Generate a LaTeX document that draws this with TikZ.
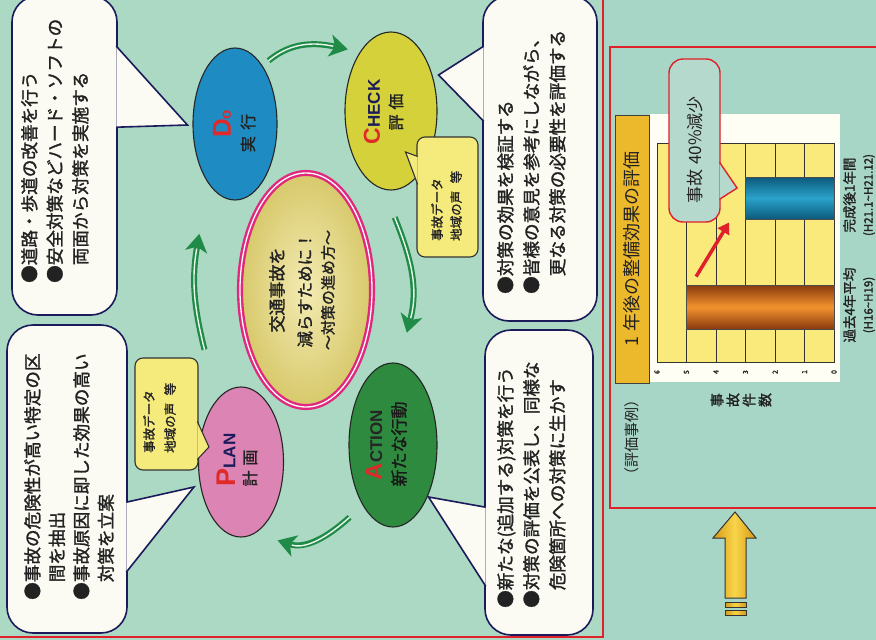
\documentclass[tikz,border=0pt]{standalone}
\usepackage{fontspec}
\setmainfont[AutoFakeBold=1.5]{Noto Sans CJK JP}
\newfontfamily\lat{Liberation Sans}
\usetikzlibrary{shapes.geometric,arrows.meta,calc}
\definecolor{bgL}{HTML}{ABD9C3}
\definecolor{bgR}{HTML}{A7D6C7}
\definecolor{doblue}{HTML}{1E8CC2}
\definecolor{chkyel}{HTML}{D4D13A}
\definecolor{actgrn}{HTML}{2E8A3E}
\definecolor{plnpink}{HTML}{DC84B4}
\definecolor{agreen}{HTML}{1F8B47}
\definecolor{navy}{HTML}{1B1B5C}
\definecolor{bubfillc}{HTML}{FBFBF3}
\definecolor{notefill}{HTML}{F5EA7C}
\definecolor{lblred}{HTML}{E02A2A}
\definecolor{txt}{HTML}{222222}
\definecolor{magen}{HTML}{E0287E}
\definecolor{cyel}{HTML}{EADA74}
\definecolor{gold}{HTML}{ECB82C}
\definecolor{gridy}{HTML}{FAEA7C}
\definecolor{redline}{HTML}{E0202A}
\definecolor{callfill}{HTML}{B6D9CD}
\definecolor{barbrown}{HTML}{8A3A0E}
\definecolor{barorange}{HTML}{F2922E}
\definecolor{bluedark}{HTML}{0C5A7C}
\definecolor{bluelight}{HTML}{2AA2CA}
\definecolor{arrdark}{HTML}{D89A14}
\definecolor{arrlight}{HTML}{F8D44A}
\begin{document}
\begin{tikzpicture}[x=1pt,y=1pt,
  ell/.style={ellipse, draw=black!85, line width=1.1pt, inner sep=0pt},
  bub/.style={rectangle, rounded corners=26pt, fill=bubfillc, draw=navy, line width=1.6pt, inner sep=0pt},
  bubline/.style={draw=navy, line width=1.6pt, line join=miter},
  bubtext/.style={rotate=90, anchor=north west, inner sep=0pt, align=left, text=txt, font=\fontsize{17.6}{25.5}\selectfont\bfseries},
  note/.style={rectangle, rounded corners=8pt, fill=notefill, draw=black!80, line width=1.1pt, inner sep=0pt},
  noteline/.style={draw=black!80, line width=1.1pt},
  notetext/.style={rotate=90, anchor=north west, inner sep=0pt, align=left, text=txt, font=\fontsize{12.5}{21}\selectfont\bfseries},
  lbl/.style={rotate=90, inner sep=0pt, text=txt},
  garrow/.style={draw=agreen, line width=6pt, -{Stealth[length=18pt,width=22pt,inset=5pt]},
    postaction={draw=white!92!agreen, line width=1.4pt, -, shorten >=15pt}},
]
% background and frames
\fill[bgL] (0,0) rectangle (876,-640);
\fill[bgR] (604,0) rectangle (876,-640);
\useasboundingbox (0,0) rectangle (876,-640);
\draw[redline, line width=2pt] (603,0) -- (603,-637) -- (0,-637);
\draw[redline, line width=1.4pt] (610,-47) rectangle (882,-508);

% PDCA ellipses
\node[ell, fill=doblue, minimum width=84pt, minimum height=152pt] (do) at (235,-124) {};
\node[ell, fill=chkyel, minimum width=92pt, minimum height=158pt] (check) at (391,-111) {};
\node[ell, fill=plnpink, minimum width=85pt, minimum height=150pt] (plan) at (241,-462) {};
\node[ell, fill=actgrn, minimum width=88pt, minimum height=164pt] (action) at (393,-445) {};
\node[ellipse, inner sep=0pt, minimum width=132pt, minimum height=234pt,
      inner color=cyel!55!white, outer color=cyel!92!black,
      draw=magen, double=white, double distance=1.3pt, line width=2.4pt] (center) at (306,-290) {};

% ellipse labels
\node[lbl] (dol1) at (222,-124) {\lat\bfseries\color{lblred}\fontsize{26}{26}\selectfont D\fontsize{15}{15}\selectfont o};
\node[lbl, font=\fontsize{16}{16}\selectfont\bfseries] (dol2) at (248,-133) {実\hspace{0.4em}行};
\node[lbl] (chl1) at (372,-112) {\lat\bfseries{\color{lblred}\fontsize{23}{23}\selectfont C}{\color{navy}\fontsize{17}{17}\selectfont HECK}};
\node[lbl, font=\fontsize{16}{16}\selectfont\bfseries] (chl2) at (396,-112) {評\hspace{0.3em}価};
\node[lbl] (acl1) at (374,-445) {\lat\bfseries{\color{lblred}\fontsize{24}{24}\selectfont A}{\color{black!85}\fontsize{17}{17}\selectfont CTION}};
\node[lbl, font=\fontsize{17}{17}\selectfont\bfseries, text=black!90] (acl2) at (399,-444) {新たな行動};
\node[lbl] (pll1) at (226,-460) {\lat\bfseries{\color{lblred}\fontsize{27}{27}\selectfont P}{\color{navy}\fontsize{17}{17}\selectfont LAN}};
\node[lbl, font=\fontsize{16}{16}\selectfont\bfseries] (pll2) at (250,-468) {計\hspace{0.3em}画};

% centre text
\node[lbl, font=\fontsize{17}{17}\selectfont\bfseries] (ct1) at (277,-290) {交通事故を};
\node[lbl, font=\fontsize{16.5}{16.5}\selectfont\bfseries] (ct2) at (305,-290) {減らすために！};
\node[lbl, font=\fontsize{15}{15}\selectfont\bfseries] (ct3) at (328,-290) {～対策の進め方～};

% cycle arrows
\draw[garrow] ($(do.62)!-9pt!(do.center)$) to[out=40,in=168] ($(check.125)!-13pt!(check.center)$);
\draw[garrow] ($(check.272)!-27pt!(check.center)$) to[out=-68,in=75] ($(action.83)!-32pt!(action.center)$);
\draw[garrow] ($(action.239)!-20pt!(action.center)$) to[out=222,in=-18] ($(plan.295)!-22pt!(plan.center)$);
\draw[garrow] ($(plan.108)!-49pt!(plan.center)$) to[out=104,in=-100] ($(do.252)!-46pt!(do.center)$);

% speech bubbles
\node[bub, minimum width=105pt, minimum height=319pt] (dob) at (64.5,-155.5) {};
\node[bub, minimum width=120pt, minimum height=308pt] (planb) at (67,-479) {};
\node[bub, minimum width=114pt, minimum height=325pt] (checkb) at (540,-158.5) {};
\node[bub, minimum width=108pt, minimum height=305pt] (actb) at (539,-482.5) {};

\coordinate (dp1) at ($(dob.north east)+(-1.5,-51)$);
\coordinate (dp2) at ($(dob.north east)+(-1.5,-132)$);
\coordinate (dpt) at ($(do.west)+(-5,-1)$);
\fill[bubfillc] (dp1) -- (dpt) -- (dp2) -- cycle;
\draw[bubline] (dp1) -- (dpt) -- (dp2);

\coordinate (pp1) at ($(planb.north east)+(-1.5,-178)$);
\coordinate (pp2) at ($(planb.north east)+(-1.5,-248)$);
\coordinate (ppt) at ($(plan.west)+(-4,-25)$);
\fill[bubfillc] (pp1) -- (ppt) -- (pp2) -- cycle;
\draw[bubline] (pp1) -- (ppt) -- (pp2);

\coordinate (cp1) at ($(checkb.north west)+(1.5,-51)$);
\coordinate (cp2) at ($(checkb.north west)+(1.5,-126)$);
\coordinate (cpt) at ($(check.east)+(1,36)$);
\fill[bubfillc] (cp1) -- (cpt) -- (cp2) -- cycle;
\draw[bubline] (cp1) -- (cpt) -- (cp2);

\coordinate (ap1) at ($(actb.north west)+(1.5,-178)$);
\coordinate (ap2) at ($(actb.north west)+(1.5,-257)$);
\coordinate (apt) at ($(action.east)+(-9,-52)$);
\fill[bubfillc] (ap1) -- (apt) -- (ap2) -- cycle;
\draw[bubline] (ap1) -- (apt) -- (ap2);

\node[bubtext] (dot) at (21,-283) {●道路・歩道の改善を行う\\●安全対策などハード・ソフトの\\\hspace*{1em}両面から対策を実施する};
\node[bubtext, font=\fontsize{17.6}{24.5}\selectfont\bfseries] (plt) at (24,-600) {●事故の危険性が高い特定の区\\\hspace*{1em}間を抽出\\●事故原因に即した効果の高い\\\hspace*{1em}対策を立案};
\node[bubtext, font=\fontsize{17.6}{26}\selectfont\bfseries] (cht) at (497,-294) {●対策の効果を検証する\\●皆様の意見を参考にしながら、\\\hspace*{1em}更なる対策の必要性を評価する};
\node[bubtext, font=\fontsize{17.6}{26}\selectfont\bfseries] (act) at (497,-608) {●新たな(追加する)対策を行う\\●対策の評価を公表し、同様な\\\hspace*{1em}危険箇所への対策に生かす};

% small notes
\node[note, minimum width=63pt, minimum height=112pt] (plann) at (166.5,-414) {};
\coordinate (pn1) at ($(plann.north east)+(-1.2,-64)$);
\coordinate (pn2) at ($(plann.north east)+(-1.2,-102)$);
\coordinate (pnt) at ($(plan.west)+(11,15)$);
\fill[notefill] (pn1) -- (pnt) -- (pn2) -- cycle;
\draw[noteline] (pn1) -- (pnt) -- (pn2);
\node[notetext] (pln1) at (143,-453) {事故データ\\地域の声\hspace{0.6em}等};

\node[note, minimum width=61pt, minimum height=120pt] (checkn) at (447.5,-197) {};
\coordinate (cn1) at ($(checkn.north west)+(1.2,-20)$);
\coordinate (cn2) at ($(checkn.north west)+(1.2,-48)$);
\coordinate (cnt) at ($(check.east)+(-32,-41)$);
\fill[notefill] (cn1) -- (cnt) -- (cn2) -- cycle;
\draw[noteline] (cn1) -- (cnt) -- (cn2);
\node[notetext, font=\fontsize{12.5}{19}\selectfont\bfseries] (chn1) at (431,-241) {事故データ\\地域の声\hspace{0.6em}等};

% right panel: title
\node[rotate=90, rectangle, fill=gold, draw=black!75, line width=1pt, minimum width=268pt, minimum height=34pt, inner sep=0pt,
      font=\fontsize{18}{18}\selectfont, text=txt] (title) at (632,-249) {1\hspace{0.3em}年後の整備効果の評価};
\node[lbl, font=\fontsize{15}{15}\selectfont] (rei) at (632,-437) {（評価事例）};

% chart
\node[rectangle, fill=white!96!yellow, minimum width=190pt, minimum height=268pt, inner sep=0pt] (chartbg) at (745,-248) {};
\node[rectangle, fill=gridy, draw=black!80, line width=1pt, minimum width=177pt, minimum height=219pt, inner sep=0pt] (grid) at (745.5,-252.5) {};
\foreach \k in {1,...,5} \draw[black!80, line width=0.9pt] (834-29.5*\k,-143) -- (834-29.5*\k,-362);
\foreach \k in {0,...,6} \node[lbl, font=\fontsize{7}{7}\selectfont\bfseries] (tk\k) at (834-29.5*\k,-372) {\k};

\node[rectangle, inner sep=0pt, minimum width=147.5pt, minimum height=44pt, draw=black!70, line width=0.8pt,
      top color=barbrown, bottom color=barbrown, middle color=barorange] (pastbar) at (760.25,-307) {};
\node[rectangle, inner sep=0pt, minimum width=88.5pt, minimum height=42pt, draw=black!70, line width=0.8pt,
      top color=bluedark, bottom color=bluedark, middle color=bluelight] (newbar) at (789.75,-198) {};

\draw[redline, line width=3.5pt, -{Triangle[length=11pt,width=13pt]}] ($(pastbar.north west)+(10,8)$) -- ($(newbar.south west)+(-16,-3)$);

% callout
\node[rectangle, rounded corners=14pt, fill=callfill, draw=redline, line width=1.4pt, minimum width=51pt, minimum height=163pt, inner sep=0pt] (call) at (694.5,-140.5) {};
\coordinate (kp1) at ($(call.north east)+(-1.2,-104)$);
\coordinate (kp2) at ($(call.north east)+(-1.2,-141)$);
\coordinate (kpt) at ($(newbar.west)+(-8,10)$);
\fill[callfill] (kp1) -- (kpt) -- (kp2) -- cycle;
\draw[redline, line width=1.4pt] (kp1) -- (kpt) -- (kp2);
\node[lbl, font=\fontsize{17}{17}\selectfont] (callt) at (695,-150) {事故\hspace{0.3em}40\%減少};

% axis and category labels
\node[rotate=90, align=center, inner sep=0pt, font=\fontsize{14}{16}\selectfont\bfseries, text=txt] (ylab) at (741,-400) {事\\故\\件\\数};
\node[rotate=90, align=center, inner sep=0pt, font=\fontsize{13.5}{18}\selectfont\bfseries, text=txt] (cat1) at (859,-305) {過去4年平均\\{\fontsize{11.5}{18}\selectfont(H16\textasciitilde H19)}};
\node[rotate=90, align=center, inner sep=0pt, font=\fontsize{13.5}{18}\selectfont\bfseries, text=txt] (cat2) at (859,-195) {完成後1年間\\{\fontsize{11.5}{18}\selectfont(H21.1\textasciitilde H21.12)}};

% yellow arrow
\draw[black!80, line width=1pt, left color=arrdark, right color=arrdark, middle color=arrlight]
  (735,-512) -- (756,-538) -- (746,-538) -- (746,-598) -- (725,-598) -- (725,-538) -- (713,-538) -- cycle;
\draw[black!80, line width=1pt, left color=arrdark, right color=arrdark, middle color=arrlight] (725,-602) rectangle (746,-607);
\draw[black!80, line width=1pt, left color=arrdark, right color=arrdark, middle color=arrlight] (725,-610) rectangle (746,-615);
\end{tikzpicture}
\end{document}
